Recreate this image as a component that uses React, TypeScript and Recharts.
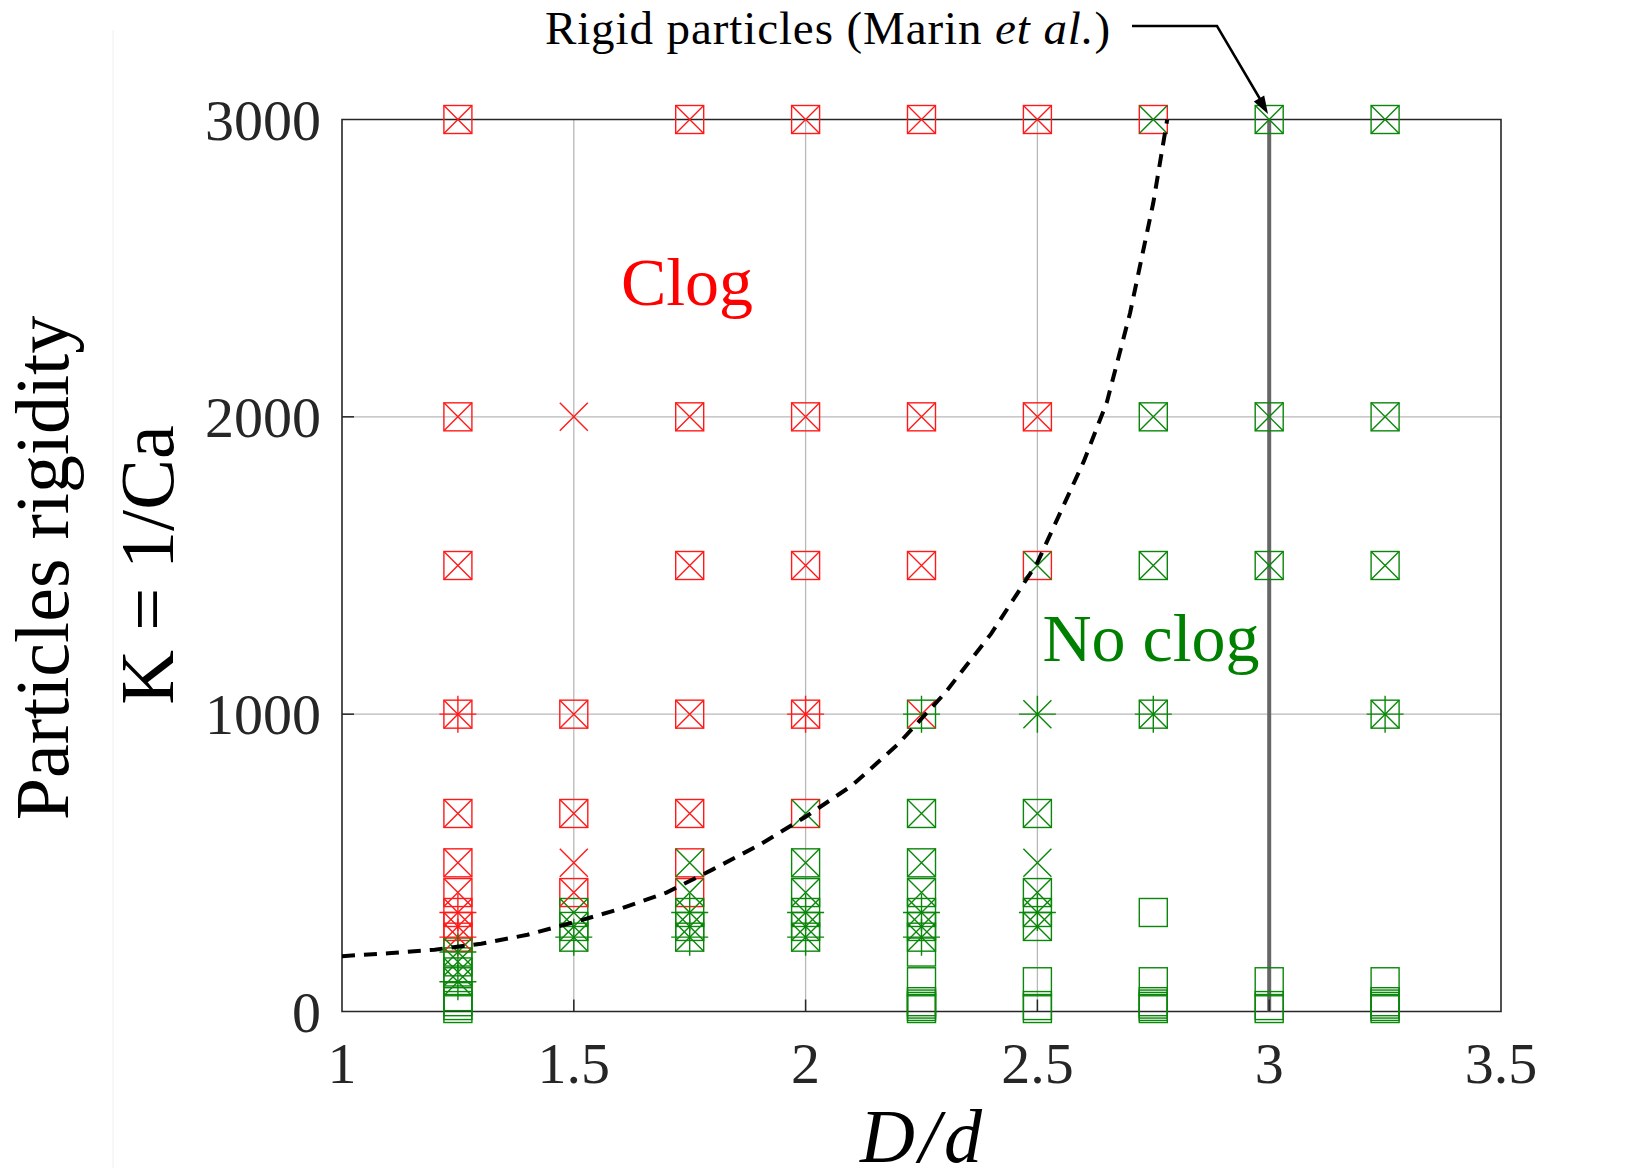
import React from "react";
import { ScatterChart, Scatter, XAxis, YAxis, CartesianGrid, ReferenceLine, ReferenceArea } from "recharts";

// ---------- data ----------
const xTicks = [1, 1.5, 2, 2.5, 3, 3.5];
const yTicks = [0, 1000, 2000, 3000];

// square markers
const squareClog = [
  { x: 1.25, k: 3000 }, { x: 1.25, k: 2000 }, { x: 1.25, k: 1500 }, { x: 1.25, k: 1000 }, { x: 1.25, k: 666 },
  { x: 1.25, k: 500 }, { x: 1.25, k: 400 }, { x: 1.25, k: 333 }, { x: 1.25, k: 286 }, { x: 1.25, k: 250 },
  { x: 1.5, k: 1000 }, { x: 1.5, k: 666 }, { x: 1.5, k: 400 },
  { x: 1.75, k: 3000 }, { x: 1.75, k: 2000 }, { x: 1.75, k: 1500 }, { x: 1.75, k: 1000 }, { x: 1.75, k: 666 },
  { x: 1.75, k: 500 }, { x: 1.75, k: 400 },
  { x: 2, k: 3000 }, { x: 2, k: 2000 }, { x: 2, k: 1500 }, { x: 2, k: 1000 }, { x: 2, k: 666 },
  { x: 2.25, k: 3000 }, { x: 2.25, k: 2000 }, { x: 2.25, k: 1500 },
  { x: 2.5, k: 3000 }, { x: 2.5, k: 2000 }, { x: 2.5, k: 1500 },
  { x: 2.75, k: 3000 },
];
const squareNoClog = [
  { x: 1.25, k: 200 }, { x: 1.25, k: 167 }, { x: 1.25, k: 133 }, { x: 1.25, k: 100 }, { x: 1.25, k: 50 },
  { x: 1.25, k: 33 }, { x: 1.25, k: 20 }, { x: 1.25, k: 10 },
  { x: 1.5, k: 333 }, { x: 1.5, k: 286 }, { x: 1.5, k: 250 },
  { x: 1.75, k: 333 }, { x: 1.75, k: 286 }, { x: 1.75, k: 250 },
  { x: 2, k: 500 }, { x: 2, k: 400 }, { x: 2, k: 333 }, { x: 2, k: 286 }, { x: 2, k: 250 },
  { x: 2.25, k: 1000 }, { x: 2.25, k: 666 }, { x: 2.25, k: 500 }, { x: 2.25, k: 400 }, { x: 2.25, k: 333 },
  { x: 2.25, k: 286 }, { x: 2.25, k: 250 }, { x: 2.25, k: 200 }, { x: 2.25, k: 100 }, { x: 2.25, k: 33 },
  { x: 2.25, k: 25 }, { x: 2.25, k: 17 }, { x: 2.25, k: 10 },
  { x: 2.5, k: 666 }, { x: 2.5, k: 400 }, { x: 2.5, k: 333 }, { x: 2.5, k: 286 }, { x: 2.5, k: 100 },
  { x: 2.5, k: 20 }, { x: 2.5, k: 10 },
  { x: 2.75, k: 2000 }, { x: 2.75, k: 1500 }, { x: 2.75, k: 1000 }, { x: 2.75, k: 333 }, { x: 2.75, k: 100 },
  { x: 2.75, k: 33 }, { x: 2.75, k: 25 }, { x: 2.75, k: 17 }, { x: 2.75, k: 10 },
  { x: 3, k: 3000 }, { x: 3, k: 2000 }, { x: 3, k: 1500 }, { x: 3, k: 100 }, { x: 3, k: 20 }, { x: 3, k: 10 },
  { x: 3.25, k: 3000 }, { x: 3.25, k: 2000 }, { x: 3.25, k: 1500 }, { x: 3.25, k: 1000 }, { x: 3.25, k: 100 },
  { x: 3.25, k: 33 }, { x: 3.25, k: 25 }, { x: 3.25, k: 17 }, { x: 3.25, k: 10 },
];

// cross (x) markers
const crossClog = [
  { x: 1.25, k: 3000 }, { x: 1.25, k: 2000 }, { x: 1.25, k: 1500 }, { x: 1.25, k: 1000 }, { x: 1.25, k: 666 },
  { x: 1.25, k: 500 }, { x: 1.25, k: 400 }, { x: 1.25, k: 333 }, { x: 1.25, k: 286 }, { x: 1.25, k: 250 },
  { x: 1.5, k: 2000 }, { x: 1.5, k: 1000 }, { x: 1.5, k: 666 }, { x: 1.5, k: 500 }, { x: 1.5, k: 400 },
  { x: 1.75, k: 3000 }, { x: 1.75, k: 2000 }, { x: 1.75, k: 1500 }, { x: 1.75, k: 1000 }, { x: 1.75, k: 666 },
  { x: 2, k: 3000 }, { x: 2, k: 2000 }, { x: 2, k: 1500 }, { x: 2, k: 1000 },
  { x: 2.25, k: 3000 }, { x: 2.25, k: 2000 }, { x: 2.25, k: 1500 }, { x: 2.25, k: 1000 },
  { x: 2.5, k: 3000 }, { x: 2.5, k: 2000 },
];
const crossNoClog = [
  { x: 1.25, k: 200 }, { x: 1.25, k: 167 }, { x: 1.25, k: 133 }, { x: 1.25, k: 100 },
  { x: 1.5, k: 333 }, { x: 1.5, k: 286 }, { x: 1.5, k: 250 },
  { x: 1.75, k: 500 }, { x: 1.75, k: 400 }, { x: 1.75, k: 333 }, { x: 1.75, k: 286 }, { x: 1.75, k: 250 },
  { x: 2, k: 666 }, { x: 2, k: 500 }, { x: 2, k: 400 }, { x: 2, k: 333 }, { x: 2, k: 286 }, { x: 2, k: 250 },
  { x: 2.25, k: 666 }, { x: 2.25, k: 500 }, { x: 2.25, k: 400 }, { x: 2.25, k: 333 }, { x: 2.25, k: 286 }, { x: 2.25, k: 250 },
  { x: 2.5, k: 1500 }, { x: 2.5, k: 1000 }, { x: 2.5, k: 666 }, { x: 2.5, k: 500 }, { x: 2.5, k: 400 },
  { x: 2.5, k: 333 }, { x: 2.5, k: 286 },
  { x: 2.75, k: 3000 }, { x: 2.75, k: 2000 }, { x: 2.75, k: 1500 }, { x: 2.75, k: 1000 },
  { x: 3, k: 3000 }, { x: 3, k: 2000 }, { x: 3, k: 1500 },
  { x: 3.25, k: 3000 }, { x: 3.25, k: 2000 }, { x: 3.25, k: 1500 }, { x: 3.25, k: 1000 },
];

// plus (+) markers
const plusClog = [
  { x: 1.25, k: 1000 }, { x: 1.25, k: 333 }, { x: 1.25, k: 250 }, { x: 2, k: 1000 },
];
const plusNoClog = [
  { x: 1.25, k: 200 }, { x: 1.25, k: 100 }, { x: 1.5, k: 250 }, { x: 1.75, k: 333 }, { x: 1.75, k: 250 },
  { x: 2, k: 333 }, { x: 2, k: 250 }, { x: 2.25, k: 1000 }, { x: 2.25, k: 333 }, { x: 2.25, k: 250 },
  { x: 2.5, k: 1000 }, { x: 2.5, k: 333 }, { x: 2.75, k: 1000 }, { x: 3.25, k: 1000 },
];

// dashed boundary curve
const boundaryCurve = [
  { x: 1.0, k: 186 }, { x: 1.1, k: 196 }, { x: 1.2, k: 208 }, { x: 1.3, k: 228 }, { x: 1.4, k: 258 },
  { x: 1.5, k: 300 }, { x: 1.6, k: 345 }, { x: 1.7, k: 400 }, { x: 1.8, k: 478 }, { x: 1.9, k: 560 },
  { x: 2.0, k: 655 }, { x: 2.1, k: 760 }, { x: 2.2, k: 900 }, { x: 2.3, k: 1070 }, { x: 2.4, k: 1270 },
  { x: 2.5, k: 1510 }, { x: 2.6, k: 1850 }, { x: 2.65, k: 2050 }, { x: 2.7, k: 2350 }, { x: 2.75, k: 2720 },
  { x: 2.78, k: 3000 },
];

const rigidX = 3;

// ---------- styles ----------
const RED = "#ff1a1a";
const GREEN = "#0a870a";
const FONT = "'Liberation Serif', 'DejaVu Serif', serif";
const W = 1625;
const H = 1160;
const Y_AXIS_W = 130;
const X_AXIS_H = 80;

const makeSquare = (color: string) => (p: any) => {
  const { cx, cy } = p;
  if (cx == null || cy == null) return <g />;
  const s = 14;
  return <rect x={cx - s} y={cy - s} width={2 * s} height={2 * s} fill="none" stroke={color} strokeWidth={1.4} />;
};
const makeCross = (color: string) => (p: any) => {
  const { cx, cy } = p;
  if (cx == null || cy == null) return <g />;
  const s = 14;
  return (
    <path d={`M${cx - s},${cy - s}L${cx + s},${cy + s}M${cx - s},${cy + s}L${cx + s},${cy - s}`} stroke={color} strokeWidth={1.4} fill="none" />
  );
};
const makePlus = (color: string) => (p: any) => {
  const { cx, cy } = p;
  if (cx == null || cy == null) return <g />;
  const s = 18.5;
  return (
    <path d={`M${cx - s},${cy}L${cx + s},${cy}M${cx},${cy - s}L${cx},${cy + s}`} stroke={color} strokeWidth={1.4} fill="none" />
  );
};
const noShape = () => <g />;

const XTick = (props: any) => {
  const { x, y, payload } = props;
  const inner = payload.value > 1 && payload.value < 3.5;
  return (
    <g>
      {inner && <line x1={x} x2={x} y1={y} y2={y - 12} stroke="#262626" strokeWidth={1.5} />}
      <text x={x} y={y + 71} textAnchor="middle" fontFamily={FONT} fontSize={58} fill="#262626">
        {payload.value}
      </text>
    </g>
  );
};
const YTick = (props: any) => {
  const { x, y, payload } = props;
  const inner = payload.value > 0 && payload.value < 3000;
  return (
    <g>
      {inner && <line x1={x} x2={x + 12} y1={y} y2={y} stroke="#262626" strokeWidth={1.5} />}
      <text x={x - 21} y={y + 20} textAnchor="end" fontFamily={FONT} fontSize={58} fill="#262626">
        {payload.value}
      </text>
    </g>
  );
};

export default function App() {
  return (
    <div style={{ position: "relative", width: W, height: H, background: "#fff" }}>
      <ScatterChart width={W} height={H} margin={{ top: 111.5, right: 132, bottom: 156.5 - X_AXIS_H, left: 334 - Y_AXIS_W }}>
        <CartesianGrid stroke="#b8b8b8" strokeWidth={1.3} horizontalValues={[1000, 2000]} verticalValues={[1.5, 2, 2.5, 3]} />
        <XAxis type="number" dataKey="x" domain={[1, 3.5]} ticks={xTicks} height={X_AXIS_H} axisLine={false} tickLine={false} tickSize={0} tickMargin={0} tick={<XTick />} interval={0} />
        <YAxis type="number" dataKey="k" domain={[0, 3000]} ticks={yTicks} width={Y_AXIS_W} axisLine={false} tickLine={false} tickSize={0} tickMargin={0} tick={<YTick />} interval={0} />
        <ReferenceArea x1={1} x2={3.5} y1={0} y2={3000} fill="none" stroke="#262626" strokeWidth={1.6} fillOpacity={0} />
        <ReferenceLine x={rigidX} stroke="#666666" strokeWidth={4} />
        <Scatter data={squareClog} shape={makeSquare(RED)} isAnimationActive={false} />
        <Scatter data={squareNoClog} shape={makeSquare(GREEN)} isAnimationActive={false} />
        <Scatter data={crossClog} shape={makeCross(RED)} isAnimationActive={false} />
        <Scatter data={crossNoClog} shape={makeCross(GREEN)} isAnimationActive={false} />
        <Scatter data={plusClog} shape={makePlus(RED)} isAnimationActive={false} />
        <Scatter data={plusNoClog} shape={makePlus(GREEN)} isAnimationActive={false} />
        <Scatter data={boundaryCurve} shape={noShape} line={{ stroke: "#000", strokeWidth: 4, strokeDasharray: "13 9" }} isAnimationActive={false} />
      </ScatterChart>
      <svg width={W} height={H} style={{ position: "absolute", left: 0, top: 0, pointerEvents: "none" }}>
        <line x1={105} x2={105} y1={22} y2={H} stroke="#f0f0f0" strokeWidth={1} />
        <text x={679} y={297} textAnchor="middle" fontFamily={FONT} fontSize={68} fill="#ff0000">Clog</text>
        <text x={1143} y={653} textAnchor="middle" fontFamily={FONT} fontSize={68} fill="#008000">No clog</text>
        <text x={1103} y={36} textAnchor="end" fontFamily={FONT} fontSize={47} letterSpacing={0.9} fill="#000">
          Rigid particles (Marin <tspan fontStyle="italic">et al.</tspan>)
        </text>
        <polyline points="1124,18 1209,18 1252,91" fill="none" stroke="#000" strokeWidth={2.5} />
        <polygon points="1260,106 1245.8,93.4 1256.2,87.4" fill="#000" />
        <text x={915} y={1154} textAnchor="middle" fontFamily={FONT} fontSize={76} fontStyle="italic" letterSpacing={4} fill="#000">D/d</text>
        <text transform="translate(60,560) rotate(-90)" textAnchor="middle" fontFamily={FONT} fontSize={76} fill="#000">Particles rigidity</text>
        <text transform="translate(165,557) rotate(-90)" textAnchor="middle" fontFamily={FONT} fontSize={76} fill="#000">K = 1/Ca</text>
      </svg>
    </div>
  );
}
